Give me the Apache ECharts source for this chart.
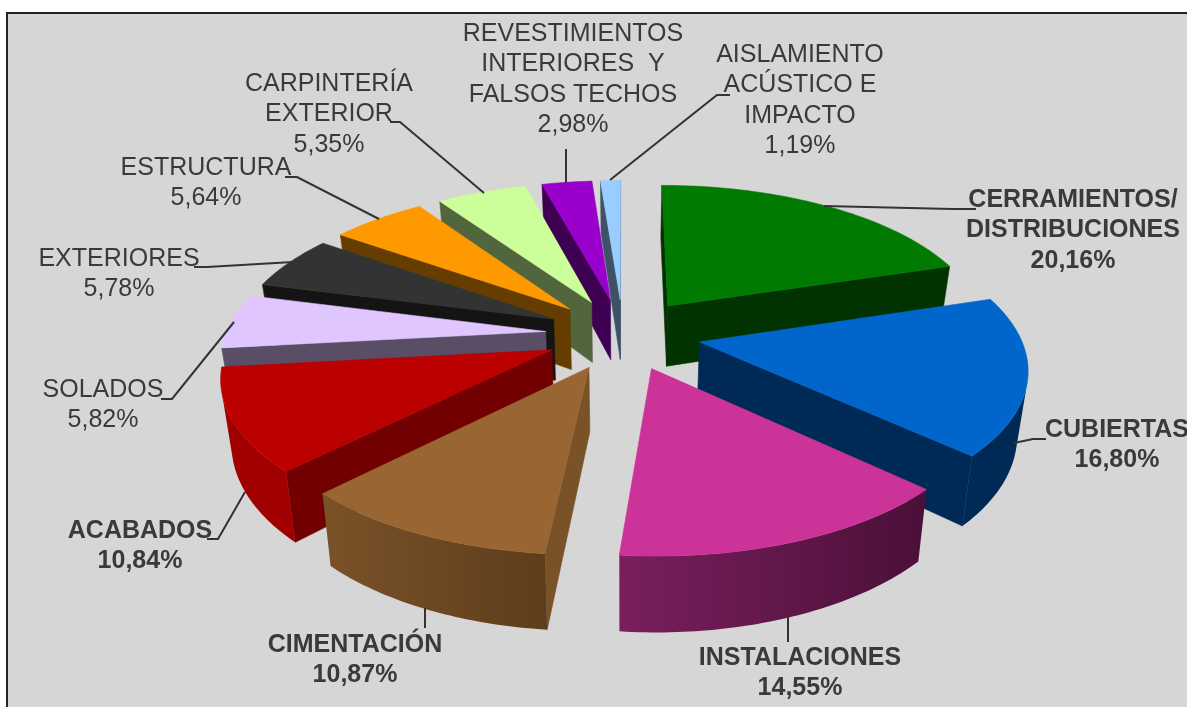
<!DOCTYPE html>
<html>
<head>
<meta charset="utf-8">
<style>html,body{margin:0;padding:0;background:#fff;overflow:hidden}#c{width:1187px;height:707px}</style>
<script src="https://cdn.jsdelivr.net/npm/echarts@6/dist/echarts.min.js"></script>
</head>
<body>
<div id="c"></div>
<script>
// ---- data ----
const categories = ['CERRAMIENTOS/\nDISTRIBUCIONES','CUBIERTAS','INSTALACIONES','CIMENTACIÓN','ACABADOS','SOLADOS','EXTERIORES','ESTRUCTURA','CARPINTERÍA\nEXTERIOR','REVESTIMIENTOS\nINTERIORES  Y\nFALSOS TECHOS','AISLAMIENTO\nACÚSTICO E\nIMPACTO'];
const shares = [20.16,16.80,14.55,10.87,10.84,5.82,5.78,5.64,5.35,2.98,1.19];
const boldFlags = [1,1,1,1,1,0,0,0,0,0,0];

// ---- styles ----
const topColors  = ['#007a00','#0066cc','#cc3399','#996633','#bb0000','#e0c6ff','#333333','#ff9900','#ccff99','#9900cc','#99ccff'];
const sideColors = ['#003300','#002a56','#4a1038','#7a5228','#720000','#5a4d66','#141414','#663d00','#52663d','#3d0052','#3d5266'];
const wallLeft   = ['#003300','#002a56','#7a1f5c','#7a5228','#a00000','#5a4d66','#141414','#663d00','#52663d','#3d0052','#3d5266'];
const wallRight  = ['#003300','#002a56','#4a1038','#5e3d1c','#a00000','#5a4d66','#141414','#663d00','#52663d','#3d0052','#3d5266'];

// ---- label layout: centre x, y of first line, line gap ----
const labelX = [1073,1117,800,355,140,103,119,206,329,573,800];
const labelY = [200,430,658,645,531,390,259,168,84,34,55];
const labelGap = 30.4;
const leaders = [
 [[824,206],[952,209],[976,209]],
 [[1014,443],[1033,439],[1046,439]],
 [[788,617],[788,642]],
 [[425,608],[425,628]],
 [[245,492],[218,539],[207,539]],
 [[234,322],[172,399],[161,399]],
 [[293,262],[207,267],[194,267]],
 [[379,219],[297,177],[285,177]],
 [[484,193],[400,122],[390,122]],
 [[566,183],[566,149]],
 [[610,180],[717,95],[730,95]]
];

// ---- projection of the tilted, exploded pie ----
const Cx = 623, Cy = 334, A = 320, B = 147, P = 0.153, H = 62, Q = 0.027, EXPLODE = 0.243;
const total = shares.reduce((s, v) => s + v, 0);
function proj(X, Y) {
  const d = 1 + P * Y;
  const x = Cx + A * X / d, y = Cy - B * Y / d;
  return { t: [x, y], b: [Cx + (x - Cx) * (1 - Q), y + H / d] };
}
function area(p) {
  let s = 0;
  for (let i = 0; i < p.length; i++) {
    const a = p[i], b = p[(i + 1) % p.length];
    s += a[0] * b[1] - b[0] * a[1];
  }
  return s;
}

function renderItem(params, api) {
  const i = params.dataIndex;
  const val = api.value(0);
  let before = 0;
  for (let k = 0; k < i; k++) before += shares[k];
  const a0 = before / total * Math.PI * 2, a1 = (before + val) / total * Math.PI * 2;
  const mid = (a0 + a1) / 2;
  const ox = EXPLODE * Math.sin(mid), oy = EXPLODE * Math.cos(mid);
  const z = Math.round((1 - Math.cos(mid)) * 100) * 5;
  const apex = proj(ox, oy);
  const steps = Math.max(4, Math.ceil((a1 - a0) * 60));
  const arc = [];
  for (let s = 0; s <= steps; s++) {
    const a = a0 + (a1 - a0) * s / steps;
    arc.push(proj(ox + Math.sin(a), oy + Math.cos(a)));
  }
  const children = [];
  const poly = (pts, fill, zz) => children.push({
    type: 'polygon', z2: zz, shape: { points: pts },
    style: { fill: fill, stroke: typeof fill === 'string' ? fill : '#00000000', lineWidth: 0.6 }, silent: true
  });
  // radial walls
  [[apex, arc[0]], [arc[steps], apex]].forEach(([p, q]) => {
    const quad = [p.t, q.t, q.b, p.b];
    if (area(quad) < 0) poly(quad, sideColors[i], z);
  });
  // outer wall: only the segments facing the viewer
  const tops = [], bots = [];
  for (let s = 0; s < steps; s++) {
    const quad = [arc[s].t, arc[s + 1].t, arc[s + 1].b, arc[s].b];
    if (area(quad) < 0) {
      if (!tops.length) { tops.push(arc[s].t); bots.push(arc[s].b); }
      tops.push(arc[s + 1].t); bots.push(arc[s + 1].b);
    }
  }
  if (tops.length > 1) {
    const fill = new echarts.graphic.LinearGradient(0, 0, 1, 0, [
      { offset: 0, color: wallLeft[i] }, { offset: 1, color: wallRight[i] }
    ]);
    poly(tops.concat(bots.reverse()), fill, z + 1);
  }
  // top face
  poly([apex.t].concat(arc.map(p => p.t)), topColors[i], z + 2);
  // leader
  children.push({
    type: 'polyline', z2: 2000, shape: { points: leaders[i] }, silent: true,
    style: { stroke: '#333333', lineWidth: 2, fill: null }
  });
  // label
  const lines = categories[i].split('\n').concat(val.toFixed(2).replace('.', ',') + '%');
  lines.forEach((t, k) => children.push({
    type: 'text', z2: 2001, x: labelX[i], y: labelY[i] + k * labelGap, silent: true,
    style: {
      text: t, fill: '#3a3a3a', align: 'center', verticalAlign: 'middle',
      fontFamily: '"Liberation Sans Narrow","Liberation Sans",Arial,sans-serif',
      fontSize: 25, fontWeight: boldFlags[i] ? 'bold' : 'normal'
    }
  }));
  return { type: 'group', children: children };
}

const chart = echarts.init(document.getElementById('c'), null, { renderer: 'canvas' });
chart.setOption({
  animation: false,
  backgroundColor: '#ffffff',
  graphic: [{
    type: 'rect', z: -1, silent: true,
    shape: { x: 7, y: 13, width: 1300, height: 800 },
    style: { fill: '#d6d6d6', stroke: '#222222', lineWidth: 2 }
  }],
  series: [{
    type: 'custom', coordinateSystem: 'none', renderItem: renderItem, clip: false,
    data: shares.map((v, i) => ({ name: categories[i], value: [v] }))
  }]
});
</script>
</body>
</html>
